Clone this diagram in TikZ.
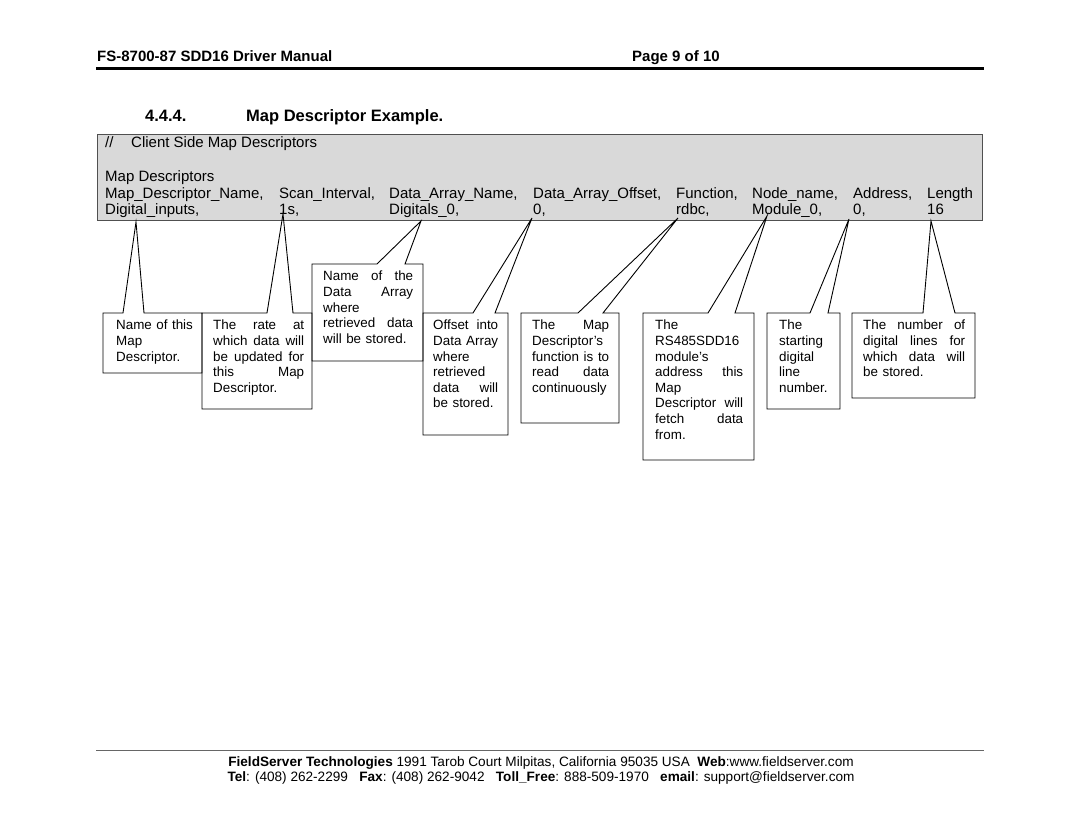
\documentclass[tikz,border=0pt]{standalone}
\usepackage{fontspec}
\setmainfont{Liberation Sans}
\definecolor{descgrey}{RGB}{217,217,217}
\definecolor{descedge}{RGB}{80,80,80}
\newcommand\cw{80pt}
\newcommand\jl[1]{\leavevmode\hbox to \cw{\spaceskip=\fontdimen2\font plus 1fil\relax #1}}
\newcommand\callbox[7]{%
  \draw[callline] (#7,#3) -- (#4,#3) -- (#4,#5) -- (#2,#5) -- (#2,#3) -- (#6,#3) -- (#1) -- cycle;}
\tikzset{
  hdr/.style={font=\fontsize{15}{18}\selectfont\bfseries, anchor=base west, inner sep=0pt},
  sec/.style={font=\fontsize{16.5}{20}\selectfont\bfseries, anchor=base west, inner sep=0pt},
  gtxt/.style={font=\fontsize{15}{17}\selectfont, anchor=base west, inner sep=0pt},
  ctxt/.style={font=\fontsize{13.4}{15.6}\selectfont\renewcommand\cw{#1}, text width=#1,
    anchor=base west, inner sep=0pt, align=left},
  ftxt/.style={font=\fontsize{13.6}{15}\selectfont, anchor=base, inner sep=0pt},
  greybox/.style={draw=descedge, fill=descgrey, line width=1pt, inner sep=0pt},
  callline/.style={draw=black, line width=0.9pt, line join=miter},
}
\begin{document}
\begin{tikzpicture}[x=1pt,y=-1pt]
\useasboundingbox (0,0) rectangle (1080,834);
\fill[white] (0,0) rectangle (1080,834);

% header
\node[hdr] (title) at (97,62) {FS-8700-87 SDD16 Driver Manual};
\node[hdr] (page) at (632,62) {Page 9 of 10};
\coordinate (hl) at (96,69);
\coordinate (hr) at (984,69);
\draw[line width=3pt] (hl) -- (hr);

% section heading
\node[sec] (secnum) at (145,122) {4.4.4.};
\node[sec] (sectitle) at (246,122) {Map Descriptor Example.};

% grey descriptor box
\node[greybox, anchor=north west, minimum width=885pt, minimum height=86pt] (desc) at (97,134) {};
\node[gtxt] (cmt1) at (105,148) {//};
\node[gtxt] (cmt2) at (131,148) {Client Side Map Descriptors};
\node[gtxt] (mdh) at (105,182) {Map Descriptors};
\node[gtxt] (h1) at (105,199) {Map\_Descriptor\_Name,};
\node[gtxt] (h2) at (279,199) {Scan\_Interval,};
\node[gtxt] (h3) at (389,199) {Data\_Array\_Name,};
\node[gtxt] (h4) at (533,199) {Data\_Array\_Offset,};
\node[gtxt] (h5) at (676,199) {Function,};
\node[gtxt] (h6) at (752,199) {Node\_name,};
\node[gtxt] (h7) at (853,199) {Address,};
\node[gtxt] (h8) at (927,199) {Length};
\node[gtxt] (v1) at (105,215) {Digital\_inputs,};
\node[gtxt] (v2) at (279,215) {1s,};
\node[gtxt] (v3) at (389,215) {Digitals\_0,};
\node[gtxt] (v4) at (533,215) {0,};
\node[gtxt] (v5) at (676,215) {rdbc,};
\node[gtxt] (v6) at (752,215) {Module\_0,};
\node[gtxt] (v7) at (853,215) {0,};
\node[gtxt] (v8) at (927,215) {16};

% pointer tips
\coordinate (tA) at (136,222);
\coordinate (tB) at (283,214);
\coordinate (tC) at (421,221);
\coordinate (tD) at (532,218);
\coordinate (tE) at (678,218);
\coordinate (tF) at (767,216);
\coordinate (tG) at (849,219);
\coordinate (tH) at (931,221);

% callout outlines: tip, left, top, right, bottom, base-left, base-right
\callbox{tA}{103}{313}{202}{373}{123}{144}
\callbox{tB}{202}{313}{312}{409}{267}{293}
\callbox{tC}{312}{264}{423}{361}{377}{405}
\callbox{tD}{423}{313}{508}{435}{473}{495}
\callbox{tE}{521}{313}{619}{423}{578}{603}
\callbox{tF}{643}{313}{754}{460}{708}{735}
\callbox{tG}{767}{313}{840}{409}{810}{828}
\callbox{tH}{852}{313}{975}{398}{923}{955}

% callout texts
\node[ctxt=80pt] (cA) at (116,330) {Name of this\\Map\\Descriptor.};
\node[ctxt=91pt] (cB) at (213,330) {\jl{The rate at}\\\jl{which data will}\\\jl{be updated for}\\\jl{this Map}\\Descriptor.};
\node[ctxt=90pt] (cC) at (323,281) {\jl{Name of the}\\\jl{Data Array}\\where\\\jl{retrieved data}\\will be stored.};
\node[ctxt=65pt] (cD) at (433,330) {\jl{Offset into}\\\jl{Data Array}\\where\\retrieved\\\jl{data will}\\be stored.};
\node[ctxt=77pt] (cE) at (532,330) {\jl{The Map}\\Descriptor’s\\\jl{function is to}\\\jl{read data}\\continuously};
\node[ctxt=88pt] (cF) at (655,330) {The\\RS485SDD16\\module’s\\\jl{address this}\\Map\\\jl{Descriptor will}\\\jl{fetch data}\\from.};
\node[ctxt=52pt] (cG) at (779,330) {The\\starting\\digital\\line\\number.};
\node[ctxt=102pt] (cH) at (863,330) {\jl{The number of}\\\jl{digital lines for}\\\jl{which data will}\\be stored.};

% footer
\coordinate (fl) at (96,750);
\coordinate (fr) at (984,750);
\draw[black!60, line width=0.8pt] (fl) -- (fr);
\node[ftxt] (foot1) at (541,766) {\textbf{FieldServer Technologies} 1991 Tarob Court Milpitas, California 95035 USA\ \ \textbf{Web}:www.fieldserver.com};
\node[ftxt] (foot2) at (541,781) {\textbf{Tel}: (408) 262-2299\ \ \ \textbf{Fax}: (408) 262-9042\ \ \ \textbf{Toll\_Free}: 888-509-1970\ \ \ \textbf{email}: support@fieldserver.com};
\end{tikzpicture}
\end{document}
